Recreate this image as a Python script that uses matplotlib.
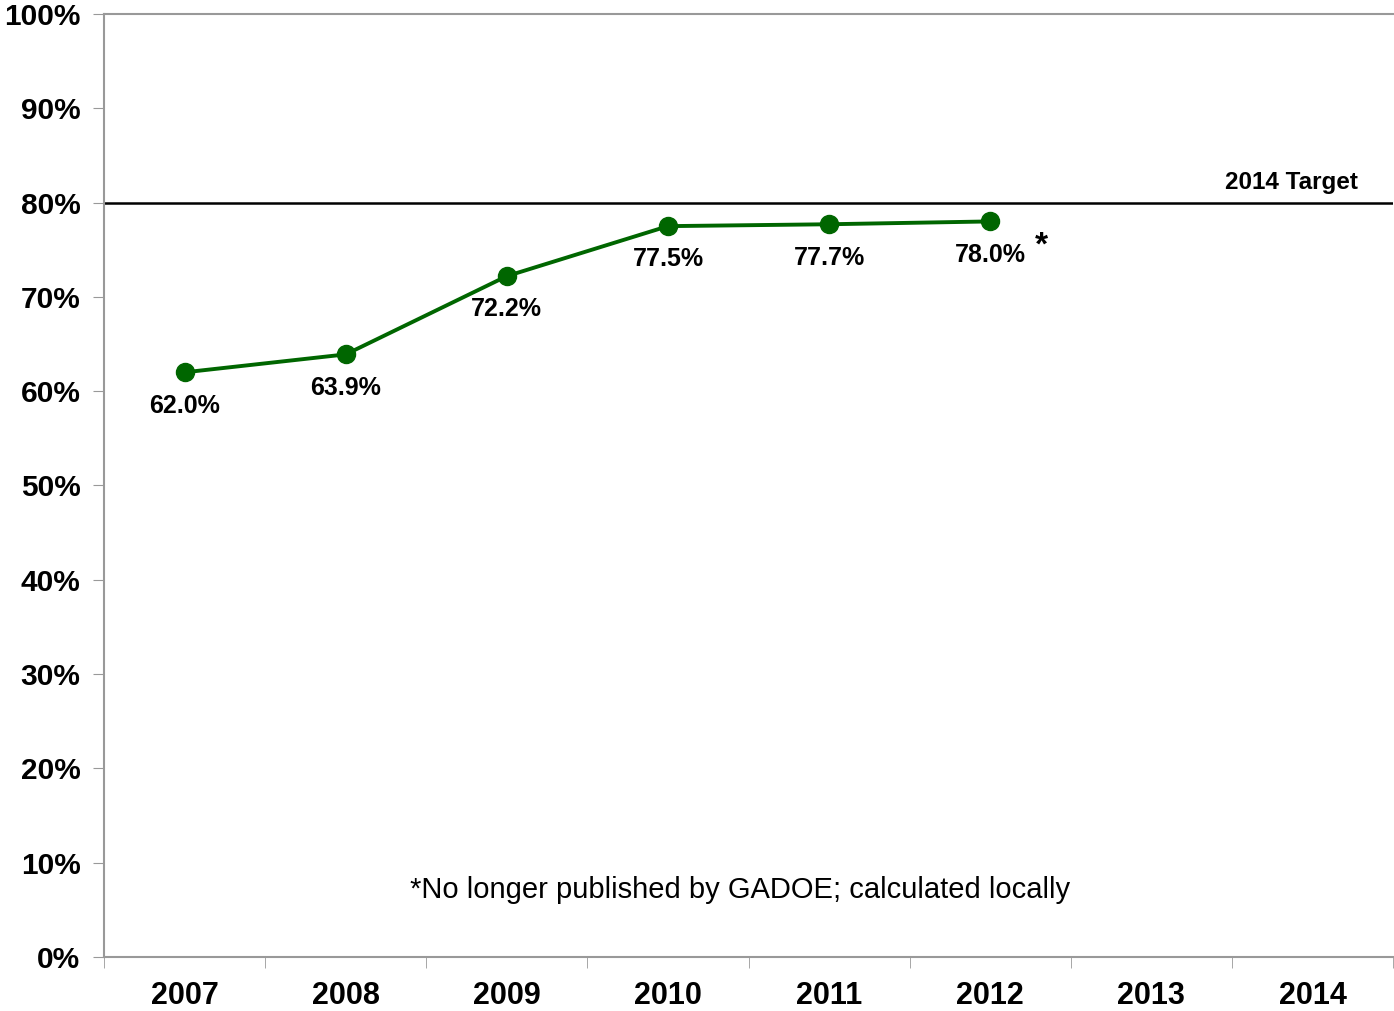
import numpy as np
import matplotlib.pyplot as plt
from matplotlib.ticker import FixedLocator, PercentFormatter

plt.rcParams['font.family'] = ['Liberation Sans', 'DejaVu Sans']

# Dados
years = ['2007', '2008', '2009', '2010', '2011', '2012', '2013', '2014']
rate_years = ['2007', '2008', '2009', '2010', '2011', '2012']
rates = [62.0, 63.9, 72.2, 77.5, 77.7, 78.0]
target = 80.0

fig = plt.figure(figsize=(13.94, 10.11), dpi=100)
ax = fig.add_axes([0.0746, 0.0534, 0.9247, 0.9328])

x = np.arange(len(rate_years))
ax.plot(x, rates, color='#006600', linewidth=2.8, marker='o', markersize=13,
        zorder=3)
for xi, v in zip(x, rates):
    ax.annotate(f'{v:.1f}%', (xi, v), xytext=(0, -24), textcoords='offset points',
                ha='center', va='center', fontsize=18, fontweight='bold')

# asterisco no último ponto
ax.annotate('*', (x[-1], rates[-1]), xytext=(37, -18), textcoords='offset points',
            ha='center', va='center', fontsize=24, fontweight='bold')

# linha da meta
ax.axhline(target, color='black', linewidth=1.8, zorder=2)
ax.text(7.28, target + 0.9, '2014 Target', ha='right', va='bottom',
        fontsize=17.5, fontweight='bold')

ax.text(3.45, 7.1, '*No longer published by GADOE; calculated locally',
        ha='center', va='center', fontsize=21)

ax.set_xlim(-0.5, len(years) - 0.5)
ax.set_ylim(0, 100)
ax.set_xticks(np.arange(len(years)))
ax.set_xticklabels(years, fontsize=22, fontweight='bold')
ax.xaxis.set_minor_locator(FixedLocator(np.arange(-0.5, len(years), 1.0)))
ax.tick_params(axis='x', which='major', length=0, pad=17)
ax.tick_params(axis='x', which='minor', length=8, color='#999999', direction='out')

ax.set_yticks(np.arange(0, 101, 10))
ax.yaxis.set_major_formatter(PercentFormatter(decimals=0))
for lab in ax.get_yticklabels():
    lab.set_fontsize(21.5)
    lab.set_fontweight('bold')
ax.tick_params(axis='y', length=8, color='#999999', pad=9)

for side in ['left', 'bottom', 'top']:
    ax.spines[side].set_color('#999999')
    ax.spines[side].set_linewidth(1.5)
ax.spines['right'].set_visible(False)

fig.savefig('out.png', dpi=100)
